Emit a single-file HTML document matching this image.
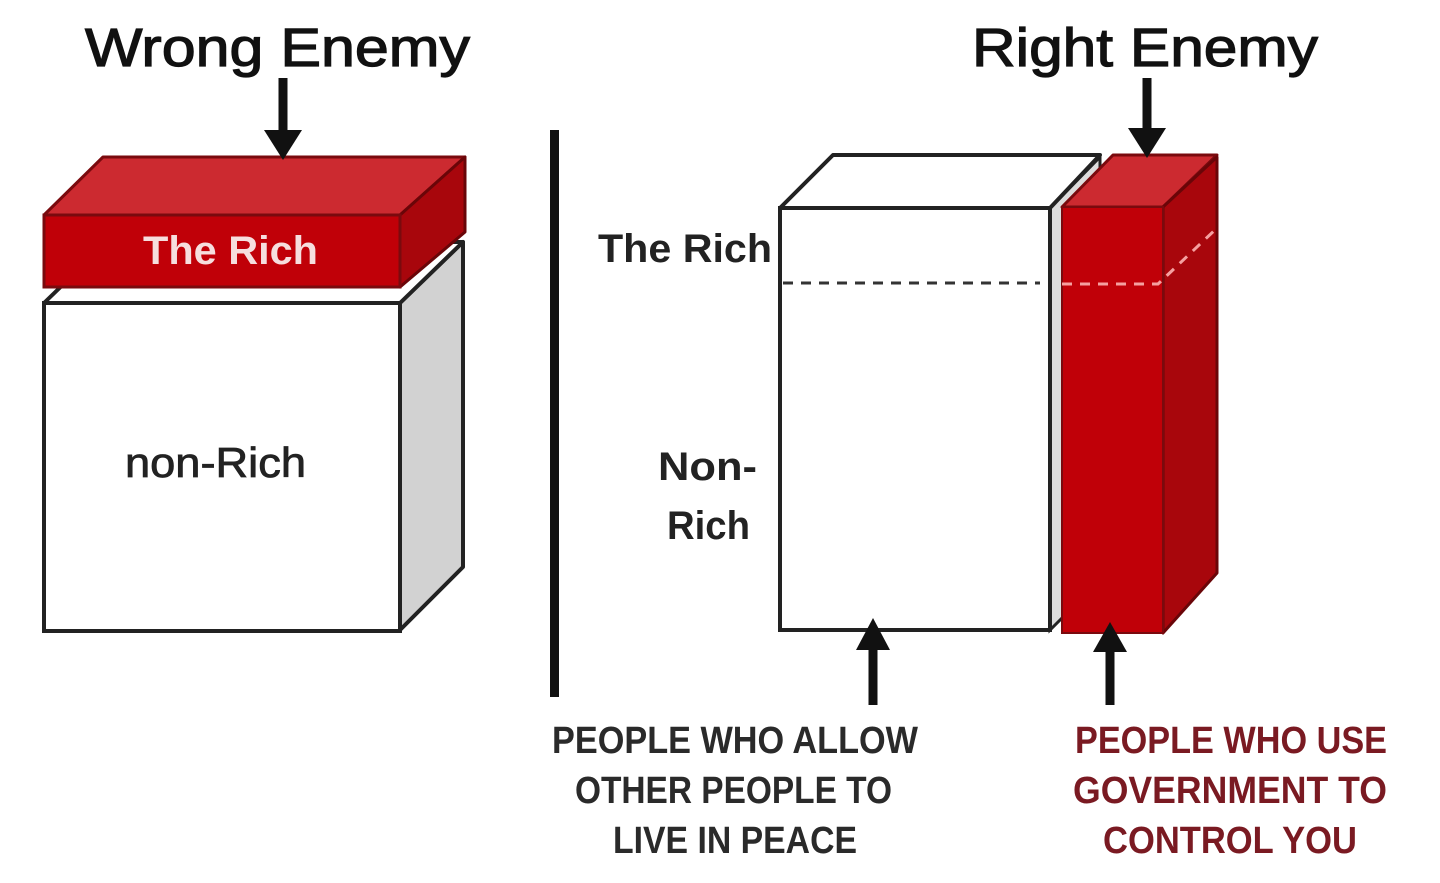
<!DOCTYPE html>
<html><head><meta charset="utf-8"><style>
html,body{margin:0;padding:0;background:#fff;}
svg{display:block}
text{font-family:"Liberation Sans",sans-serif;}
</style></head><body>
<svg width="1440" height="883" viewBox="0 0 1440 883" xmlns="http://www.w3.org/2000/svg">
<rect width="1440" height="883" fill="#fff"/>
<!-- Titles -->
<text x="85" y="66" font-size="54" fill="#111" stroke="#111" stroke-width="1.2" textLength="385" lengthAdjust="spacingAndGlyphs">Wrong Enemy</text>
<text x="972" y="66" font-size="54" fill="#111" stroke="#111" stroke-width="1.2" textLength="346" lengthAdjust="spacingAndGlyphs">Right Enemy</text>

<!-- Left: white box -->
<polygon points="400,303 463,242 463,567 400,630" fill="#d2d2d2" stroke="#222" stroke-width="4" stroke-linejoin="round"/>
<polygon points="44,303 107,242 463,242 400,303" fill="#fff" stroke="#222" stroke-width="4" stroke-linejoin="round"/>
<rect x="44" y="303" width="356" height="328" fill="#fff" stroke="#222" stroke-width="4"/>
<text x="125" y="477" font-size="42" fill="#222" stroke="#222" stroke-width="0.8" textLength="181" lengthAdjust="spacingAndGlyphs">non-Rich</text>

<!-- Left: red slab -->
<polygon points="44,215 103,157 465,157 400,215" fill="#cc2a30" stroke="#7a0a0e" stroke-width="3" stroke-linejoin="round"/>
<polygon points="400,215 465,157 465,232 400,287" fill="#a8060c" stroke="#6a0508" stroke-width="3" stroke-linejoin="round"/>
<rect x="44" y="215" width="356" height="72" fill="#c00008" stroke="#7a0a0e" stroke-width="3"/>
<text x="143" y="264" font-size="40" font-weight="bold" fill="#f6dede" textLength="175" lengthAdjust="spacingAndGlyphs">The Rich</text>

<!-- Left arrow -->
<line x1="283" y1="78" x2="283" y2="132" stroke="#111" stroke-width="9"/>
<polygon points="264,130 302,130 283,160" fill="#111"/>

<!-- Divider -->
<rect x="550" y="130" width="9" height="567" fill="#111"/>

<!-- Right white box -->
<polygon points="1050,208 1100,157 1100,580 1050,630" fill="#ddd" stroke="#222" stroke-width="3"/>
<polygon points="780,208 833,155 1100,155 1050,208" fill="#fff" stroke="#222" stroke-width="4" stroke-linejoin="round"/>
<rect x="780" y="208" width="270" height="422" fill="#fff" stroke="#222" stroke-width="4"/>
<line x1="783" y1="283" x2="1040" y2="283" stroke="#333" stroke-width="3" stroke-dasharray="10,8"/>

<!-- Red column -->
<polygon points="1062,207 1113,155 1217,155 1163,207" fill="#cc2a30" stroke="#7a0a0e" stroke-width="3" stroke-linejoin="round"/>
<polygon points="1163,207 1217,157 1217,573 1163,633" fill="#a8060c" stroke="#6a0508" stroke-width="3" stroke-linejoin="round"/>
<rect x="1062" y="207" width="101" height="426" fill="#c00008" stroke="#7a0a0e" stroke-width="2"/>
<polyline points="1062,284 1158,284 1217,228" fill="none" stroke="#f5a0a0" stroke-width="3" stroke-dasharray="10,8"/>

<!-- Right labels -->
<text x="598" y="262" font-size="40" font-weight="bold" fill="#222" textLength="174" lengthAdjust="spacingAndGlyphs">The Rich</text>
<text x="658" y="480" font-size="40" font-weight="bold" fill="#222" textLength="99" lengthAdjust="spacingAndGlyphs">Non-</text>
<text x="667" y="539" font-size="40" font-weight="bold" fill="#222" textLength="83" lengthAdjust="spacingAndGlyphs">Rich</text>

<!-- Right arrows -->
<line x1="1147" y1="78" x2="1147" y2="130" stroke="#111" stroke-width="9"/>
<polygon points="1128,128 1166,128 1147,158" fill="#111"/>
<line x1="873" y1="645" x2="873" y2="705" stroke="#111" stroke-width="9"/>
<polygon points="856,650 890,650 873,618" fill="#111"/>
<line x1="1110" y1="648" x2="1110" y2="705" stroke="#111" stroke-width="9"/>
<polygon points="1093,652 1127,652 1110,622" fill="#111"/>

<!-- Bottom texts -->
<g font-size="38" font-weight="bold">
<text x="552" y="753" fill="#2a2a2a" textLength="366" lengthAdjust="spacingAndGlyphs">PEOPLE WHO ALLOW</text>
<text x="575" y="803" fill="#2a2a2a" textLength="317" lengthAdjust="spacingAndGlyphs">OTHER PEOPLE TO</text>
<text x="613" y="853" fill="#2a2a2a" textLength="244" lengthAdjust="spacingAndGlyphs">LIVE IN PEACE</text>
<text x="1075" y="753" fill="#7a1a22" textLength="312" lengthAdjust="spacingAndGlyphs">PEOPLE WHO USE</text>
<text x="1073" y="803" fill="#7a1a22" textLength="314" lengthAdjust="spacingAndGlyphs">GOVERNMENT TO</text>
<text x="1103" y="853" fill="#7a1a22" textLength="254" lengthAdjust="spacingAndGlyphs">CONTROL YOU</text>
</g>
</svg>
</body></html>
